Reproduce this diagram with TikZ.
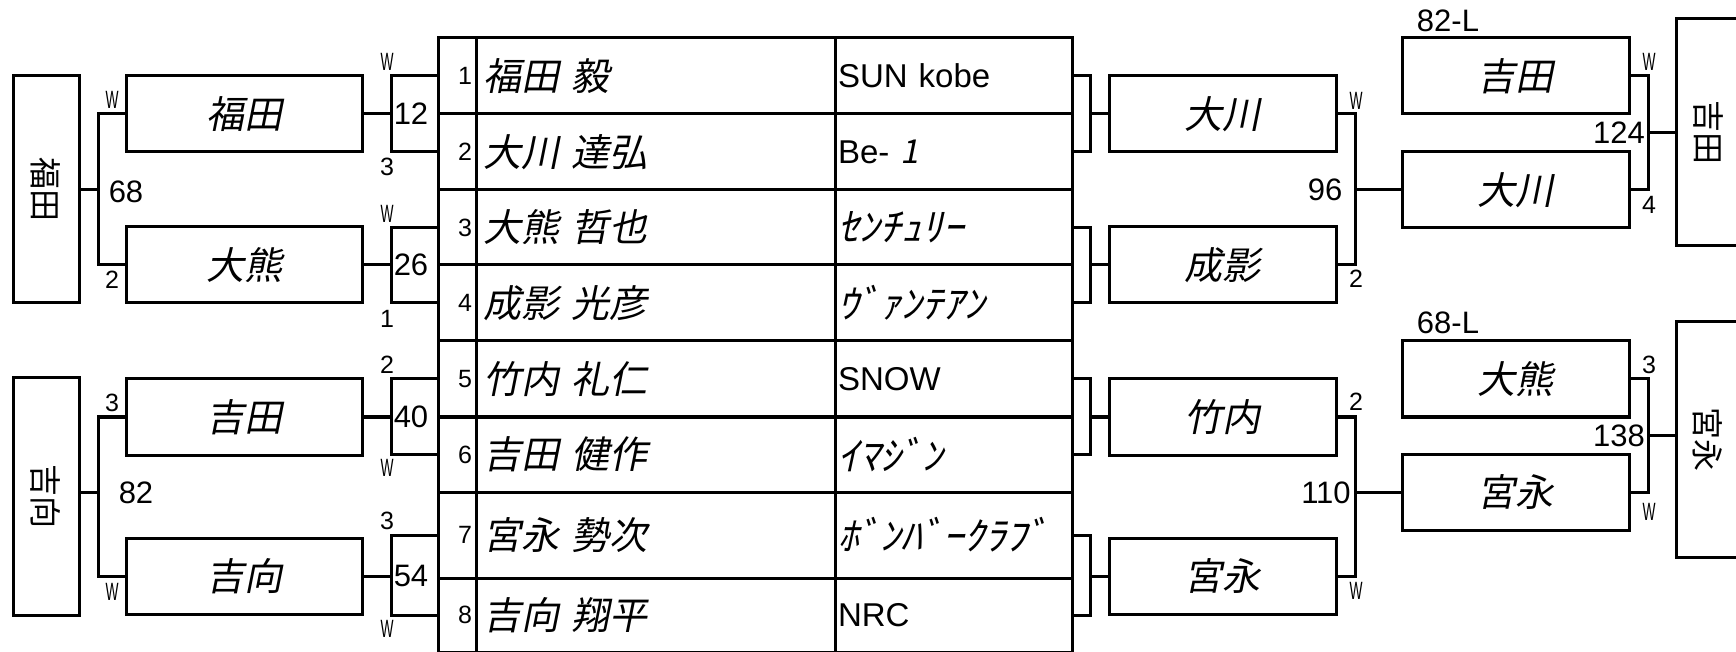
\documentclass[tikz,border=0pt]{standalone}
\usepackage{fontspec}
\setmainfont{Liberation Sans}
\newfontfamily\jpfont{Noto Sans CJK JP}
\newfontfamily\jpitfont[FakeSlant=0.2,WordSpace=2]{Noto Sans CJK JP}
\newcommand{\narrowW}{\scalebox{0.55}[1]{W}}
\newcommand{\kana}[1]{{\fontsize{19.5}{19.5}\selectfont\jpitfont\scalebox{1.08}[1]{#1}}}
\usetikzlibrary{calc}

\begin{document}
\begin{tikzpicture}[x=0.5pt,y=-0.5pt,line width=1.5pt]
\tikzset{
     namebox/.style={draw, minimum width=118pt, minimum height=38pt, inner sep=0pt, font=\fontsize{19}{19}\selectfont\jpitfont},
     finalbox/.style={draw, minimum width=33pt, inner sep=0pt, font=\fontsize{16}{16}\selectfont\jpfont},
     numcell/.style={draw, text width=15pt, inner xsep=2pt, inner ysep=0pt, align=right, font=\fontsize{12.5}{12.5}\selectfont},
     namecell/.style={draw, text width=172.5pt, inner xsep=3.5pt, inner ysep=0pt, align=left, font=\fontsize{19}{19}\selectfont\jpitfont},
     clubcell/.style={draw, text width=115.5pt, inner xsep=1.5pt, inner ysep=0pt, align=left, font=\fontsize{16.5}{16.5}\selectfont},
     score/.style={inner sep=0pt, font=\fontsize{15.5}{15.5}\selectfont},
     winlbl/.style={inner sep=0pt, font=\fontsize{12.5}{12.5}\selectfont}}

\useasboundingbox (0,0) rectangle (1736,652);

% The table
\foreach \i/\yc/\h/\nm/\cl in {
  1/76/38/{福田 毅}/{SUN kobe},
  2/152/38/{大川 達弘}/{Be- {\jpitfont 1}},
  3/227.5/37.5/{大熊 哲也}/{\kana{ｾﾝﾁｭﾘｰ}},
  4/303/38/{成影 光彦}/{\kana{ｳﾞｧﾝﾃｱﾝ}},
  5/379/38/{竹内 礼仁}/{SNOW},
  6/454.5/37.5/{吉田 健作}/{\kana{ｲﾏｼﾞﾝ}},
  7/535/43/{宮永 勢次}/{\kana{ﾎﾞﾝﾊﾞｰｸﾗﾌﾞ}},
  8/615/37/{吉向 翔平}/{NRC}}
{
  \node (n\i) [numcell, minimum height=\h pt] at (457,\yc) {\i};
  \node (m\i) [namecell, minimum height=\h pt] at (655.5,\yc) {\nm};
  \node (c\i) [clubcell, minimum height=\h pt] at (953.5,\yc) {\cl};
}

% The first round boxes
\node (rL1) [namebox] at (244,114) {福田};
\node (rL2) [namebox] at (244,265) {大熊};
\node (rL3) [namebox] at (244,417) {吉田};
\node (rL4) [namebox] at (244,576) {吉向};
\node (rR1) [namebox, minimum width=113.5pt] at (1222.5,114) {大川};
\node (rR2) [namebox, minimum width=113.5pt] at (1222.5,265) {成影};
\node (rR3) [namebox, minimum width=113.5pt] at (1222.5,417) {竹内};
\node (rR4) [namebox, minimum width=113.5pt] at (1222.5,576) {宮永};

% The score brackets
\foreach \a/\b/\j/\yc/\sc in {1/2/1/114/12, 3/4/2/265/26, 5/6/3/417/40, 7/8/4/576/54}
{
  \coordinate (kl\j) at (391,\yc);
  \coordinate (kr\j) at (1090,\yc);
  \draw (n\a.west) -| (kl\j) |- (n\b.west);
  \draw (c\a.east) -| (kr\j) |- (c\b.east);
  \draw (rL\j.east) -- (kl\j);
  \draw (kr\j) -- (rR\j.west);
  \node (sc\j) [score] at (411,\yc) {\sc};
}

% The left final
\coordinate (kL1) at (98,190);
\coordinate (kL2) at (98,492);
\draw (rL1.west) -| (kL1) |- (rL2.west);
\draw (rL3.west) -| (kL2) |- (rL4.west);
\node (chL1) [finalbox, minimum height=113.5pt] at (46,189.5) {\rotatebox{-90}{福田}};
\node (chL2) [finalbox, minimum height=118.5pt] at (46,496.5) {\rotatebox{-90}{吉向}};
\draw (chL1.east |- kL1) -- (kL1);
\draw (kL2) -- (kL2 -| chL2.east);

% The right final
\coordinate (kR1) at (1355,190);
\coordinate (kR2) at (1355,492);
\draw (rR1.east) -| (kR1) |- (rR2.east);
\draw (rR3.east) -| (kR2) |- (rR4.east);
\node (fR1) [namebox, minimum width=113.5pt] at (1515.5,76) {吉田};
\node (fR2) [namebox, minimum width=113.5pt] at (1515.5,190) {大川};
\node (fR3) [namebox, minimum width=113.5pt] at (1515.5,379) {大熊};
\node (fR4) [namebox, minimum width=113.5pt] at (1515.5,492) {宮永};
\draw (kR1) -- (fR2.west);
\draw (kR2) -- (fR4.west);
\coordinate (kF1) at (1648,133);
\coordinate (kF2) at (1648,435);
\draw (fR1.east) -| (kF1) |- (fR2.east);
\draw (fR3.east) -| (kF2) |- (fR4.east);
\node (chR1) [finalbox, minimum width=32pt, minimum height=113.5pt] at (1708,132.5) {\rotatebox{-90}{吉田}};
\node (chR2) [finalbox, minimum width=32pt, minimum height=117.5pt] at (1708,439.5) {\rotatebox{-90}{宮永}};
\draw (kF1) -- (kF1 -| chR1.west);
\draw (kF2) -- (kF2 -| chR2.west);

% The labels
\foreach \nm/\x/\y/\t in {la/112/100/\narrowW, lb/112/280/2, lc/112/403/3, ld/112/592/\narrowW,
    le/387/62/\narrowW, lf/387/167/3, lg/387/214/\narrowW, lh/387/319/1,
    li/387/365/2, lj/387/468/\narrowW, lk/387/521/3, ll/387/629/\narrowW,
    lm/1356/101/\narrowW, ln/1356/279/2, lo/1356/402/2, lp/1356/591/\narrowW,
    lq/1649/62/\narrowW, lr/1649/205/4, ls/1649/365/3, lt/1649/512/\narrowW}
  \node (\nm) [winlbl] at (\x,\y) {\t};
\foreach \nm/\x/\y/\t in {t68/126/192/68, t82/136/493/82, t96/1325/190/96, t110/1326/493/110,
    t124/1619/133/124, t138/1619/436/138, tLa/1448/21/82-L, tLb/1448/323/68-L}
  \node (\nm) [score] at (\x,\y) {\t};
\end{tikzpicture}
\end{document}
